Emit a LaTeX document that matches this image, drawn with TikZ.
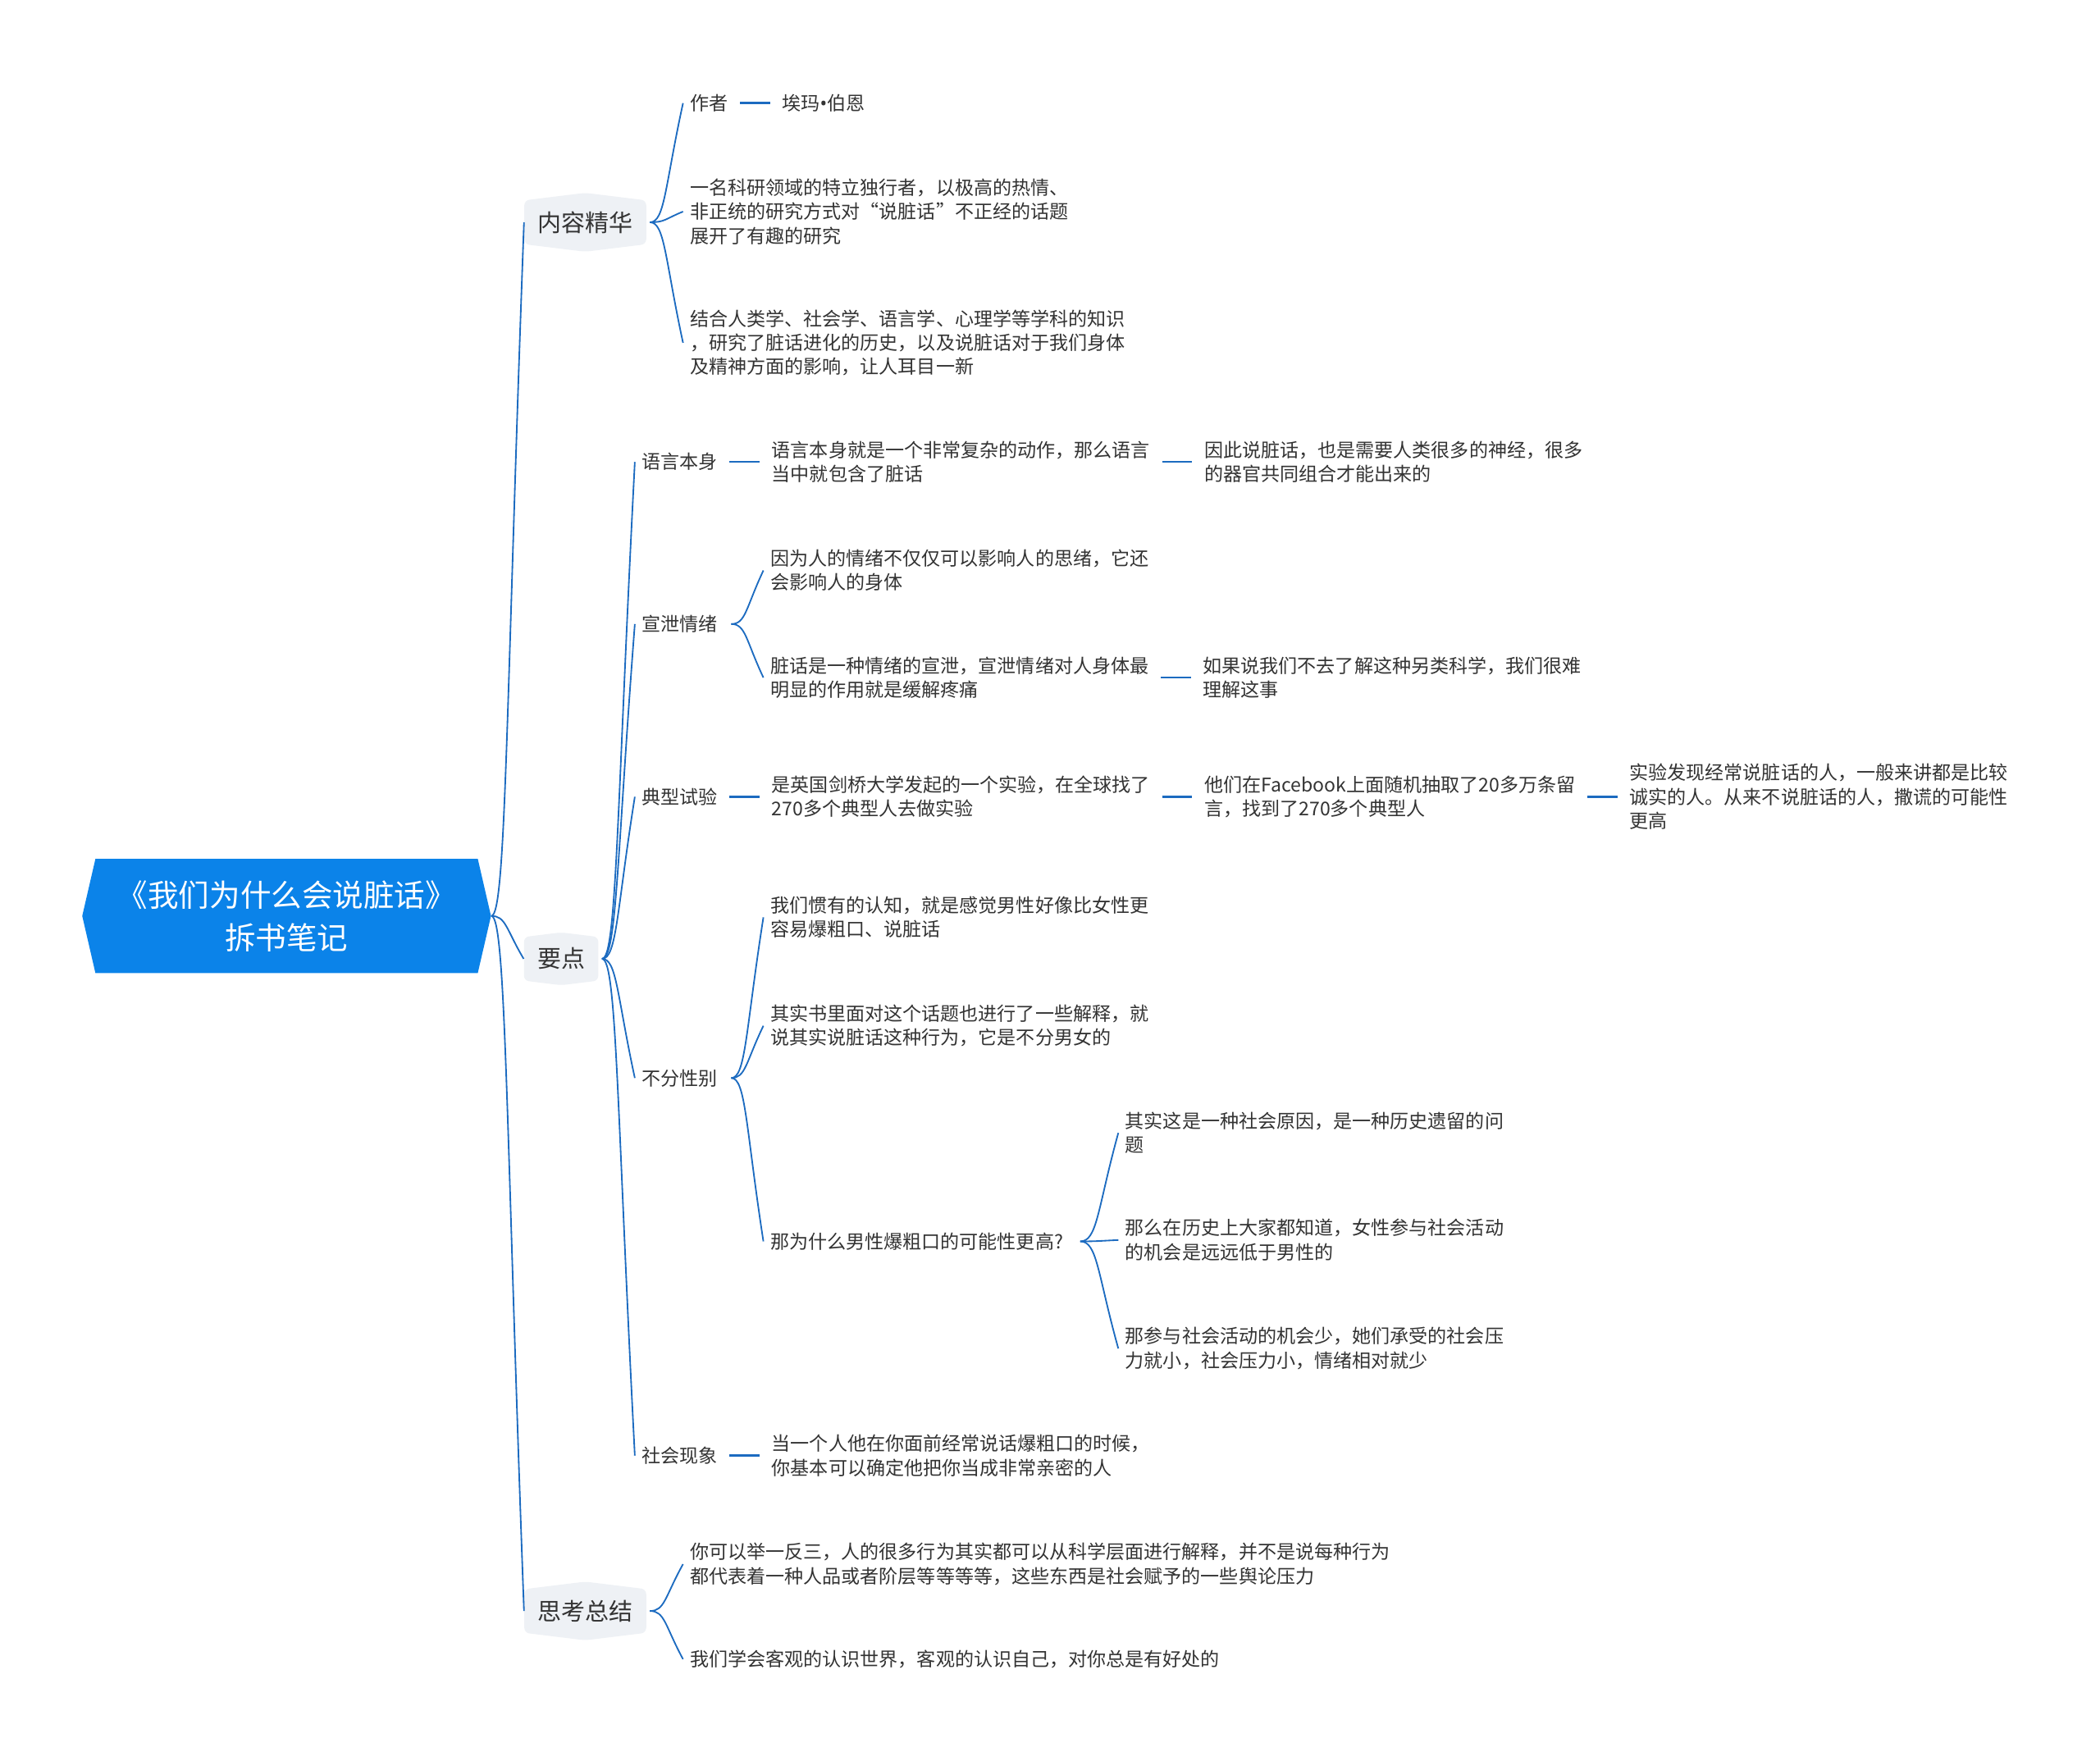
\documentclass[tikz,border=0pt]{standalone}
\usepackage{fontspec}
\setmainfont{Noto Sans CJK SC}
\newfontfamily\bulletfont{Noto Sans}
\usepackage{tikz}
\usetikzlibrary{positioning,calc,shapes.symbols}
\definecolor{rootblue}{HTML}{0B83E9}
\definecolor{hexgray}{HTML}{EEF1F5}
\definecolor{twigblue}{HTML}{1C6BC0}
\definecolor{ink}{HTML}{333333}
\newcommand{\twig}[2]{%
  \draw[twig] let \p1=(#1), \p2=(#2) in
    (\p1) .. controls ({\x1+0.45*(\x2-\x1)},{\y1}) and ({\x1+0.45*(\x2-\x1)},{\y1+0.3*(\y2-\y1)}) .. (\p2);}

\begin{document}
\begin{tikzpicture}[x=0.8pt,y=-0.8pt,
  root/.style={shape=signal,signal to=west and east,signal pointer angle=154,fill=rootblue,
               text=white,align=center,inner xsep=13pt,inner ysep=12.8pt,
               font=\fontsize{18.4}{25.6}\selectfont},
  topic/.style={shape=signal,signal to=north and south,signal pointer angle=166,fill=hexgray,
                rounded corners=3pt,text=ink,inner xsep=8pt,inner ysep=6.5pt,
                font=\fontsize{14.2}{17}\selectfont},
  leaf/.style={anchor=west,inner sep=0pt,align=left,text=ink,font=\fontsize{11.3}{14.4}\selectfont},
  twig/.style={draw=twigblue,line width=0.9pt},
  stub/.style={draw=twigblue,line width=1.2pt}
]
\fill[white] (0,0) rectangle (1568,1315);
\useasboundingbox (0,0) rectangle (1568,1315);

\node[root] (root) at (214,684) {《我们为什么会说脏话》\\拆书笔记};
\node[topic] (gist) at (437,166) {内容精华};
\node[topic] (keys) at (419,716) {要点};
\node[topic] (recap) at (437,1203) {思考总结};

% 内容精华
\node[leaf] (author) at (515,77) {作者};
\node[leaf,right=32pt of author] (authorname) {埃玛{\bulletfont•}伯恩};
\node[leaf] (gistA) at (515,158) {一名科研领域的特立独行者，以极高的热情、\\非正统的研究方式对“说脏话”不正经的话题\\展开了有趣的研究};
\node[leaf] (gistB) at (515,256) {结合人类学、社会学、语言学、心理学等学科的知识\\，研究了脏话进化的历史，以及说脏话对于我们身体\\及精神方面的影响，让人耳目一新};

% 要点
\node[leaf] (lang) at (479,345) {语言本身};
\node[leaf,right=32pt of lang] (langA) {语言本身就是一个非常复杂的动作，那么语言\\当中就包含了脏话};
\node[leaf,right=32pt of langA] (langB) {因此说脏话，也是需要人类很多的神经，很多\\的器官共同组合才能出来的};
\node[leaf] (vent) at (479,466) {宣泄情绪};
\node[leaf] (ventA) at (575,426) {因为人的情绪不仅仅可以影响人的思绪，它还\\会影响人的身体};
\node[leaf] (ventB) at (575,506) {脏话是一种情绪的宣泄，宣泄情绪对人身体最\\明显的作用就是缓解疼痛};
\node[leaf,right=32pt of ventB] (ventC) {如果说我们不去了解这种另类科学，我们很难\\理解这事};
\node[leaf] (exp) at (479,595) {典型试验};
\node[leaf,right=32pt of exp] (expA) {是英国剑桥大学发起的一个实验，在全球找了\\270多个典型人去做实验};
\node[leaf,right=32pt of expA] (expB) {他们在Facebook上面随机抽取了20多万条留\\言，找到了270多个典型人};
\node[leaf,right=32pt of expB] (expC) {实验发现经常说脏话的人，一般来讲都是比较\\诚实的人。从来不说脏话的人，撒谎的可能性\\更高};
\node[leaf] (gender) at (479,805) {不分性别};
\node[leaf] (genA) at (575,685) {我们惯有的认知，就是感觉男性好像比女性更\\容易爆粗口、说脏话};
\node[leaf] (genB) at (575,766) {其实书里面对这个话题也进行了一些解释，就\\说其实说脏话这种行为，它是不分男女的};
\node[leaf] (genQ) at (575,927) {那为什么男性爆粗口的可能性更高?};
\node[leaf] (genQa) at (840,846) {其实这是一种社会原因，是一种历史遗留的问\\题};
\node[leaf] (genQb) at (840,926) {那么在历史上大家都知道，女性参与社会活动\\的机会是远远低于男性的};
\node[leaf] (genQc) at (840,1007) {那参与社会活动的机会少，她们承受的社会压\\力就小，社会压力小，情绪相对就少};
\node[leaf] (social) at (479,1087) {社会现象};
\node[leaf,right=32pt of social] (socA) {当一个人他在你面前经常说话爆粗口的时候，\\你基本可以确定他把你当成非常亲密的人};

% 思考总结
\node[leaf] (recapA) at (515,1168) {你可以举一反三，人的很多行为其实都可以从科学层面进行解释，并不是说每种行为\\都代表着一种人品或者阶层等等等等，这些东西是社会赋予的一些舆论压力};
\node[leaf] (recapB) at (515,1239) {我们学会客观的认识世界，客观的认识自己，对你总是有好处的};

% curved branches
\twig{root.east}{gist.west}
\twig{root.east}{keys.west}
\twig{root.east}{recap.west}
\twig{[xshift=2pt]gist.east}{[xshift=-4pt]author.west}
\twig{[xshift=2pt]gist.east}{[xshift=-4pt]gistA.west}
\twig{[xshift=2pt]gist.east}{[xshift=-4pt]gistB.west}
\twig{[xshift=2pt]keys.east}{[xshift=-4pt]lang.west}
\twig{[xshift=2pt]keys.east}{[xshift=-4pt]vent.west}
\twig{[xshift=2pt]keys.east}{[xshift=-4pt]exp.west}
\twig{[xshift=2pt]keys.east}{[xshift=-4pt]gender.west}
\twig{[xshift=2pt]keys.east}{[xshift=-4pt]social.west}
\twig{[xshift=8pt]vent.east}{[xshift=-4pt]ventA.west}
\twig{[xshift=8pt]vent.east}{[xshift=-4pt]ventB.west}
\twig{[xshift=8pt]gender.east}{[xshift=-4pt]genA.west}
\twig{[xshift=8pt]gender.east}{[xshift=-4pt]genB.west}
\twig{[xshift=8pt]gender.east}{[xshift=-4pt]genQ.west}
\twig{[xshift=10pt]genQ.east}{[xshift=-4pt]genQa.west}
\twig{[xshift=10pt]genQ.east}{[xshift=-4pt]genQb.west}
\twig{[xshift=10pt]genQ.east}{[xshift=-4pt]genQc.west}
\twig{[xshift=2pt]recap.east}{[xshift=-4pt]recapA.west}
\twig{[xshift=2pt]recap.east}{[xshift=-4pt]recapB.west}

% straight links
\draw[stub] ([xshift=7pt]author.east) -- ([xshift=-7pt]authorname.west);
\draw[stub] ([xshift=7pt]lang.east) -- ([xshift=-7pt]langA.west);
\draw[stub] ([xshift=7pt]langA.east) -- ([xshift=-7pt]langB.west);
\draw[stub] ([xshift=7pt]ventB.east) -- ([xshift=-7pt]ventC.west);
\draw[stub] ([xshift=7pt]exp.east) -- ([xshift=-7pt]expA.west);
\draw[stub] ([xshift=7pt]expA.east) -- ([xshift=-7pt]expB.west);
\draw[stub] ([xshift=7pt]expB.east) -- ([xshift=-7pt]expC.west);
\draw[stub] ([xshift=7pt]social.east) -- ([xshift=-7pt]socA.west);
\end{tikzpicture}
\end{document}
